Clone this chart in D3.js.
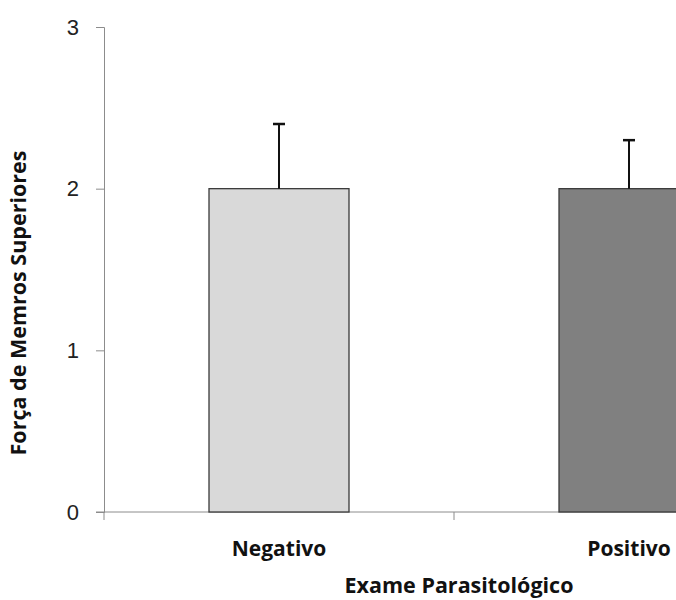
<!DOCTYPE html>
<html>
<head>
<meta charset="utf-8">
<script src="https://cdn.jsdelivr.net/npm/d3@7"></script>
<style>
  body { margin: 0; background: #fff; }
  svg { display: block; font-family: "Open Sans", sans-serif; }
</style>
</head>
<body>
<div id="chart"></div>
<script>
/*  Data  */
var categories = ["Negativo", "Positivo"];
var means = [2.0, 2.0];
var errors = [0.4, 0.3];
var fills = ["#d9d9d9", "#808080"];
var yTicks = [0, 1, 2, 3];

var W = 676, H = 600;

var svg = d3.select("#chart").append("svg")
  .attr("width", W)
  .attr("height", H);

/*  Scales: the plot runs past the right edge, so the second bar is cut  */
var x = d3.scaleBand()
  .domain(categories)
  .range([104, 804])
  .paddingInner(0.6)
  .paddingOuter(0.3);

var y = d3.scaleLinear()
  .domain([0, 3])
  .range([512, 27]);

/*  Y axis  */
var yAxis = svg.append("g")
  .attr("transform", "translate(104,0)")
  .call(d3.axisLeft(y).tickValues(yTicks).tickFormat(d3.format("d")).tickSize(8).tickPadding(17));
yAxis.select(".domain").attr("stroke", "#8c8c8c");
yAxis.selectAll(".tick line").attr("stroke", "#8c8c8c");
yAxis.selectAll(".tick text")
  .attr("fill", "#222")
  .style("font-size", "22px");

/*  X axis line with a tick between the categories  */
svg.append("line")
  .attr("x1", 96).attr("x2", W)
  .attr("y1", y(0)).attr("y2", y(0))
  .attr("stroke", "#8c8c8c");
var step = x.step();
[x.range()[0], x.range()[0] + step].forEach(function(t){
  svg.append("line")
    .attr("x1", t).attr("x2", t)
    .attr("y1", y(0)).attr("y2", y(0) + 8)
    .attr("stroke", "#8c8c8c");
});

/*  Bars  */
svg.selectAll("rect.bar")
  .data(categories)
  .enter().append("rect")
  .attr("class", "bar")
  .attr("x", function(d){ return x(d); })
  .attr("y", function(d, i){ return y(means[i]); })
  .attr("width", x.bandwidth())
  .attr("height", function(d, i){ return y(0) - y(means[i]); })
  .attr("fill", function(d, i){ return fills[i]; })
  .attr("stroke", "#3a3a3a")
  .attr("stroke-width", 1.3);

/*  Error bars (upper only)  */
categories.forEach(function(d, i){
  var cx = x(d) + x.bandwidth() / 2;
  svg.append("line")
    .attr("x1", cx).attr("x2", cx)
    .attr("y1", y(means[i])).attr("y2", y(means[i] + errors[i]))
    .attr("stroke", "#111").attr("stroke-width", 2);
  svg.append("line")
    .attr("x1", cx - 6).attr("x2", cx + 6)
    .attr("y1", y(means[i] + errors[i])).attr("y2", y(means[i] + errors[i]))
    .attr("stroke", "#111").attr("stroke-width", 2.5);
});

/*  Category labels  */
svg.selectAll("text.cat")
  .data(categories)
  .enter().append("text")
  .attr("class", "cat")
  .attr("x", function(d){ return x(d) + x.bandwidth() / 2; })
  .attr("y", 556)
  .attr("text-anchor", "middle")
  .style("font-size", "21px")
  .style("font-weight", "bold")
  .attr("fill", "#111")
  .text(function(d){ return d; });

/*  Axis titles  */
svg.append("text")
  .attr("x", 459)
  .attr("y", 593)
  .attr("text-anchor", "middle")
  .style("font-size", "21.5px")
  .style("font-weight", "bold")
  .attr("fill", "#111")
  .text("Exame Parasitológico");

svg.append("text")
  .attr("transform", "translate(26,303) rotate(-90)")
  .attr("text-anchor", "middle")
  .style("font-size", "21.5px")
  .style("font-weight", "bold")
  .attr("fill", "#111")
  .text("Força de Memros Superiores");
</script>
</body>
</html>
